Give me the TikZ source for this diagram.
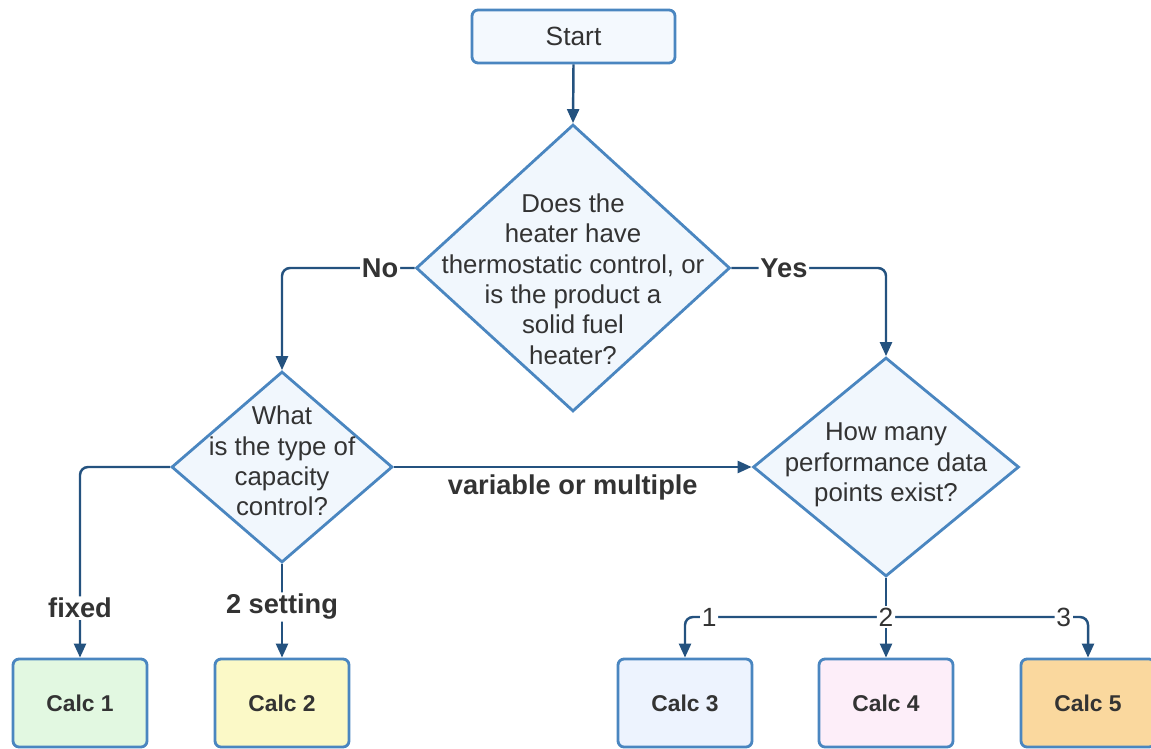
\documentclass[tikz,border=0pt]{standalone}
\usepackage{fontspec}
\setmainfont{Liberation Sans}
\usetikzlibrary{shapes.geometric,arrows.meta}

\definecolor{boxblue}{HTML}{4A86C0}
\definecolor{arrowblue}{HTML}{24527F}
\definecolor{textgray}{HTML}{333333}
\definecolor{startfill}{HTML}{F4F9FE}
\definecolor{qfill}{HTML}{F1F7FD}
\definecolor{calcgreen}{HTML}{E2F8E1}
\definecolor{calcyellow}{HTML}{FBF9C7}
\definecolor{calcblue}{HTML}{EDF3FE}
\definecolor{calcpink}{HTML}{FDEEF9}
\definecolor{calcorange}{HTML}{FAD89E}

\begin{document}
\begin{tikzpicture}[x=0.02cm, y=-0.02cm,
  >={Triangle[length=0.28cm,width=0.24cm]},
  flow/.style={draw=arrowblue, line width=1.4pt, rounded corners=0.16cm},
  startbox/.style={draw=boxblue, line width=1.6pt, rounded corners=0.12cm, fill=startfill, minimum width=4.06cm, minimum height=1.06cm, text=textgray, font=\fontsize{15}{18}\selectfont},
  decision/.style={diamond, draw=boxblue, line width=1.6pt, fill=qfill, inner sep=0pt},
  question/.style={align=center, text=textgray, inner sep=0pt, font=\fontsize{14.7}{17.3}\selectfont},
  calcbox/.style={draw=boxblue, line width=1.6pt, rounded corners=0.12cm, minimum width=2.68cm, minimum height=1.76cm, text=textgray, font=\bfseries\fontsize{13}{15}\selectfont},
  branch/.style={fill=white, text=textgray, inner sep=1pt, font=\bfseries\fontsize{15.5}{18}\selectfont},
  count/.style={fill=white, text=textgray, inner sep=1pt, font=\fontsize{15}{18}\selectfont}]

\useasboundingbox (0,0) rectangle (1151,749);

\node[startbox] (start) at (573.5, 36.5) {Start};

\node[decision, minimum width=6.28cm, minimum height=5.74cm] (q1) at (573, 268) {};
\node[question] (q1text) at (573, 279) {Does the\\heater have\\thermostatic control, or\\is the product a\\solid fuel\\heater?};

\node[decision, minimum width=4.42cm, minimum height=3.82cm] (q2) at (282, 467) {};
\node[question] (q2text) at (282, 461) {What\\is the type of\\capacity\\control?};

\node[decision, minimum width=5.32cm, minimum height=4.38cm] (q3) at (886, 467) {};
\node[question] (q3text) at (886, 465) {How many\\performance data\\points exist?};

\node[calcbox, fill=calcgreen] (c1) at (80, 703) {Calc 1};
\node[calcbox, fill=calcyellow] (c2) at (282, 703) {Calc 2};
\node[calcbox, fill=calcblue] (c3) at (685, 703) {Calc 3};
\node[calcbox, fill=calcpink] (c4) at (886, 703) {Calc 4};
\node[calcbox, fill=calcorange] (c5) at (1088, 703) {Calc 5};

\draw[flow, ->] (start.south) -- (q1.north);

\draw[flow, ->] (q1.west) -| node[branch, pos=0.13] {No} (q2.north);
\draw[flow, ->] (q1.east) -| node[branch, pos=0.17] {Yes} (q3.north);

\draw[flow, ->] (q2.west) -| node[branch, pos=0.87] {fixed} (c1.north);
\draw[flow, ->] (q2.south) -- node[branch, pos=0.46] {2 setting} (c2.north);
\draw[flow, ->] (q2.east) -- node[branch, fill=none, midway, below=3pt] {variable or multiple} (q3.west);

\coordinate (split) at (886, 617);
\draw[flow] (q3.south) -- (split);
\draw[flow, ->] (split) -| node[count, pos=0.44] {1} (c3.north);
\draw[flow, ->] (split) -| node[count, pos=0.44] {3} (c5.north);
\draw[flow, ->] (split) -- node[count, pos=0] {2} (c4.north);

\end{tikzpicture}
\end{document}
